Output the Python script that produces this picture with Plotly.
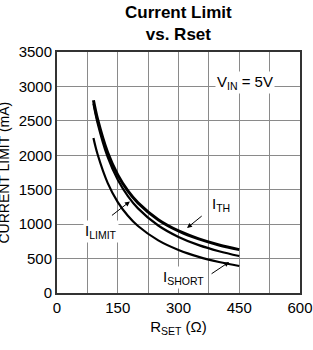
import plotly.graph_objects as go

rset = [90, 100, 125, 150, 175, 200, 250, 300, 350, 400, 450]
i_th = [2800, 2529, 2041, 1716, 1483, 1309, 1065, 902, 786, 698, 630]
i_limit = [2751, 2474, 1976, 1644, 1407, 1229, 980, 814, 695, 607, 537]
i_short = [2250, 2018, 1600, 1321, 1122, 973, 764, 625, 525, 451, 392]

x_ticks = [0, 150, 300, 450, 600]
y_ticks = [0, 500, 1000, 1500, 2000, 2500, 3000, 3500]

FONT = "Liberation Sans, Arial, sans-serif"

fig = go.Figure()
for ys, w in [(i_th, 3), (i_limit, 2.2), (i_short, 2.2)]:
    fig.add_trace(go.Scatter(x=rset, y=ys, mode="lines", line=dict(color="black", width=w, shape="spline"),
                             showlegend=False, hoverinfo="skip"))

fig.update_layout(
    width=313, height=350,
    margin=dict(l=57, r=13, t=52, b=57),
    paper_bgcolor="white", plot_bgcolor="white",
    font=dict(family=FONT, color="black", size=15),
)
fig.update_xaxes(range=[0, 600], tickvals=x_ticks, showgrid=True, gridcolor="#8a8a8a", gridwidth=1,
                 minor=dict(dtick=75, showgrid=True, gridcolor="#8a8a8a", gridwidth=1),
                 showline=True, linecolor="#333", linewidth=2, mirror=True, zeroline=False,
                 ticks="", tickfont=dict(size=15), automargin=False,
                 title=dict(text="R<sub>SET</sub> (Ω)", font=dict(size=15), standoff=6))
fig.update_yaxes(range=[0, 3500], tickvals=y_ticks, showgrid=True, gridcolor="#8a8a8a", gridwidth=1,
                 showline=True, linecolor="#333", linewidth=2, mirror=True, zeroline=False,
                 ticks="", tickfont=dict(size=15), automargin=False)

fig.add_annotation(xref="paper", yref="paper", x=0.5, y=1.118, text="<b>Current Limit<br>vs. Rset</b>",
                   showarrow=False, font=dict(size=17), xanchor="center", yanchor="middle")

fig.add_annotation(xref="paper", yref="paper", x=-0.222, y=0.5, text="CURRENT LIMIT (mA)",
                   textangle=-90, showarrow=False, font=dict(size=14), xanchor="center", yanchor="middle")

fig.add_annotation(x=464, y=3050, text="V<sub>IN</sub> = 5V", showarrow=False, bgcolor="white",
                   font=dict(size=15))
fig.add_annotation(x=404, y=1290, text="I<sub>TH</sub>", showarrow=False, bgcolor="white", font=dict(size=15))
fig.add_annotation(x=108, y=900, text="I<sub>LIMIT</sub>", showarrow=False, bgcolor="white", font=dict(size=15))
fig.add_annotation(x=313, y=230, text="I<sub>SHORT</sub>", showarrow=False, bgcolor="white", font=dict(size=15))

# arrows
fig.add_annotation(x=321, y=944, ax=361, ay=1135, axref="x", ayref="y", text="", showarrow=True,
                   arrowhead=2, arrowsize=1, arrowwidth=1, arrowcolor="black")
fig.add_annotation(x=180, y=1330, ax=132, ay=1110, axref="x", ayref="y", text="", showarrow=True,
                   arrowhead=2, arrowsize=1, arrowwidth=1, arrowcolor="black")
fig.add_annotation(x=425, y=450, ax=378, ay=265, axref="x", ayref="y", text="", showarrow=True,
                   arrowhead=2, arrowsize=1, arrowwidth=1, arrowcolor="black")

fig.write_html("out.html", config={"displayModeBar": False},
               post_script="document.body.style.margin='0';document.body.style.overflow='hidden';")
